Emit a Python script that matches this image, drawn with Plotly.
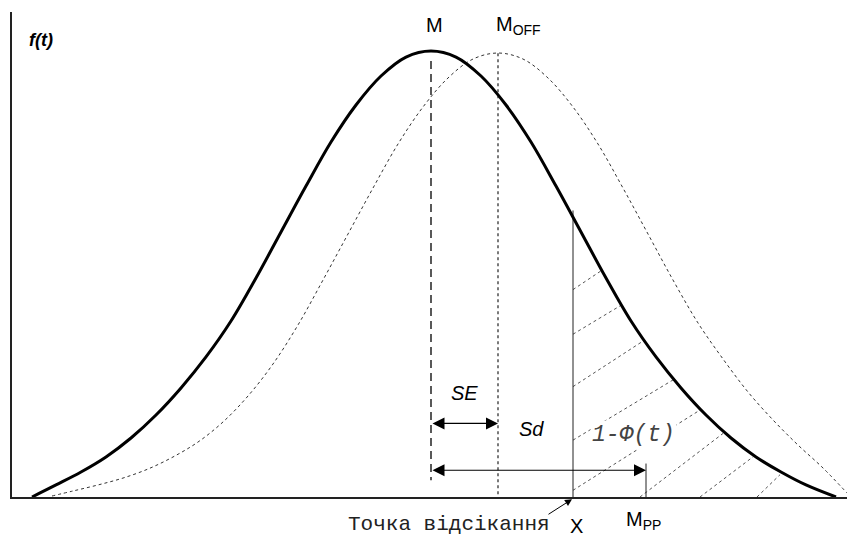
import plotly.graph_objects as go

# Standardised axis t (M at 0), density f(t)
# Sample distribution around M (solid curve)
t_m = [-3.99, -3.75, -3.50, -3.25, -3.00, -2.75, -2.50, -2.25, -2.00, -1.75, -1.50, -1.25,
       -1.00, -0.75, -0.50, -0.25, 0.0, 0.25, 0.50, 0.75, 1.00, 1.25, 1.50, 1.75, 2.00,
       2.25, 2.50, 2.75, 3.00, 3.25, 3.50, 3.75, 4.05]
f_m = [0.0, 0.0108, 0.0224, 0.0359, 0.0529, 0.0735, 0.0978, 0.1256, 0.1578, 0.1964, 0.2377, 0.2789,
       0.3184, 0.3516, 0.3776, 0.3946, 0.400, 0.3946, 0.3776, 0.3516, 0.3184, 0.2789, 0.2377, 0.1964,
       0.1578, 0.1256, 0.0978, 0.0735, 0.0529, 0.0359, 0.0224, 0.0108, 0.0]

# Distribution around M_OFF (dotted curve)
t_off = [-3.79, -3.58, -3.33, -3.08, -2.83, -2.58, -2.33, -2.08, -1.83, -1.58, -1.33, -1.08,
         -0.83, -0.58, -0.33, -0.08, 0.17, 0.42, 0.67, 0.92, 1.17, 1.42, 1.67, 1.92, 2.17,
         2.42, 2.67, 2.92, 3.17, 3.42, 3.67, 3.92, 4.16]
f_off = [0.0009, 0.0054, 0.0108, 0.0170, 0.0251, 0.0359, 0.0493, 0.0673, 0.0906, 0.1193, 0.1543, 0.1946,
         0.2359, 0.2771, 0.3166, 0.3498, 0.3758, 0.3928, 0.3982, 0.3928, 0.3758, 0.3498, 0.3166, 0.2771,
         0.2359, 0.1946, 0.1561, 0.1238, 0.0942, 0.0691, 0.0466, 0.0260, 0.0036]

# Key positions on the t axis
t_M = 0.0
t_OFF = 0.67
t_X = 1.42
t_PP = 2.15

# Vertical marker extents
f_M_top, f_M_bottom = 0.391, 0.015
f_OFF_top = 0.398
f_X_top = 0.257
f_PP_top = 0.030

# Arrow levels
f_SE = 0.066
f_Sd = 0.024

# Hatching of the tail area 1-Φ(t): segment start/end points
hatch_t0 = [1.42, 1.42, 1.42, 1.42, 1.42, 2.09, 2.69, 3.26]
hatch_f0 = [0.186, 0.146, 0.099, 0.051, 0.006, 0.0, 0.0, 0.0]
hatch_t1 = [1.72, 1.92, 2.14, 2.42, 2.69, 2.92, 3.22, 3.49]
hatch_f1 = [0.204, 0.173, 0.141, 0.105, 0.078, 0.057, 0.036, 0.020]

T_RANGE = [-4.19, 4.16]
F_RANGE = [0.0, 0.435]

SANS = "Liberation Sans, Arial, sans-serif"
MONO = "Liberation Mono, Courier New, monospace"

fig = go.Figure()

# hatch lines
hx, hy = [], []
for a, b, c, d in zip(hatch_t0, hatch_f0, hatch_t1, hatch_f1):
    hx += [a, c, None]
    hy += [b, d, None]
fig.add_trace(go.Scatter(x=hx, y=hy, mode="lines",
                         line=dict(color="#555", width=1, dash="dot"), hoverinfo="skip"))

# shifted distribution
fig.add_trace(go.Scatter(x=t_off, y=f_off, mode="lines", line_shape="spline",
                         line=dict(color="#333", width=1, dash="dot"), hoverinfo="skip"))

# vertical markers
fig.add_trace(go.Scatter(x=[t_M, t_M], y=[f_M_top, f_M_bottom], mode="lines",
                         line=dict(color="black", width=1.3, dash="8px,5px"), hoverinfo="skip"))
fig.add_trace(go.Scatter(x=[t_OFF, t_OFF], y=[f_OFF_top, 0], mode="lines",
                         line=dict(color="#333", width=1.3, dash="dot"), hoverinfo="skip"))
fig.add_trace(go.Scatter(x=[t_X, t_X], y=[f_X_top, 0], mode="lines",
                         line=dict(color="#222", width=1), hoverinfo="skip"))
fig.add_trace(go.Scatter(x=[t_PP, t_PP], y=[f_PP_top, 0], mode="lines",
                         line=dict(color="#222", width=1), hoverinfo="skip"))

# main distribution
fig.add_trace(go.Scatter(x=t_m, y=f_m, mode="lines", line_shape="spline",
                         line=dict(color="black", width=3), hoverinfo="skip"))


def to_paper(t, f):
    return ((t - T_RANGE[0]) / (T_RANGE[1] - T_RANGE[0]),
            (f - F_RANGE[0]) / (F_RANGE[1] - F_RANGE[0]))


def label(t, f, text, size=20, family=SANS, color="black", **kw):
    px, py = to_paper(t, f)
    fig.add_annotation(x=px, y=py, xref="paper", yref="paper", text=text, showarrow=False,
                       xanchor="center", yanchor="middle",
                       font=dict(family=family, size=size, color=color), **kw)


def arrow(t0, t1, f):
    fig.add_annotation(x=t1, y=f, ax=t0, ay=f, xref="x", yref="y", axref="x", ayref="y",
                       text="", showarrow=True, arrowhead=2, arrowside="end+start",
                       arrowsize=2, arrowwidth=1.2, arrowcolor="black")


arrow(t_M, t_OFF, f_SE)
arrow(t_M, t_PP, f_Sd)

# pointer to the cut-off point
tip_x, tip_y = to_paper(t_X - 0.01, -0.002)
fig.add_annotation(x=tip_x, y=tip_y, xref="paper", yref="paper", ax=-25, ay=16,
                   axref="pixel", ayref="pixel", text="", showarrow=True, arrowhead=2,
                   arrowsize=1.4, arrowwidth=1, arrowcolor="black")

label(-3.90, 0.41, "<b><i>f(t)</i></b>", size=18)
label(0.04, 0.423, "M")
label(0.875, 0.423, "M<sub>OFF</sub>")
label(0.34, 0.093, "<i>SE</i>")
label(1.01, 0.061, "<i>Sd</i>")
label(2.02, 0.056, "<i>1-Φ(t)</i>", size=23, family=MONO, color="#444",
      bgcolor="white", borderpad=1)
label(0.18, -0.025, "Точка відсікання", size=21, family=MONO, color="#222")
label(1.46, -0.026, "X")
label(2.125, -0.021, "M<sub>PP</sub>")

axis_common = dict(showgrid=False, zeroline=False, showticklabels=False, ticks="",
                   showline=True, linecolor="#222", linewidth=1.5)
fig.update_layout(
    width=847, height=536,
    margin=dict(l=12, r=0, t=12, b=39),
    plot_bgcolor="white", paper_bgcolor="white",
    showlegend=False,
    xaxis=dict(range=T_RANGE, **axis_common),
    yaxis=dict(range=F_RANGE, **axis_common),
)

fig.write_html("out.html")
